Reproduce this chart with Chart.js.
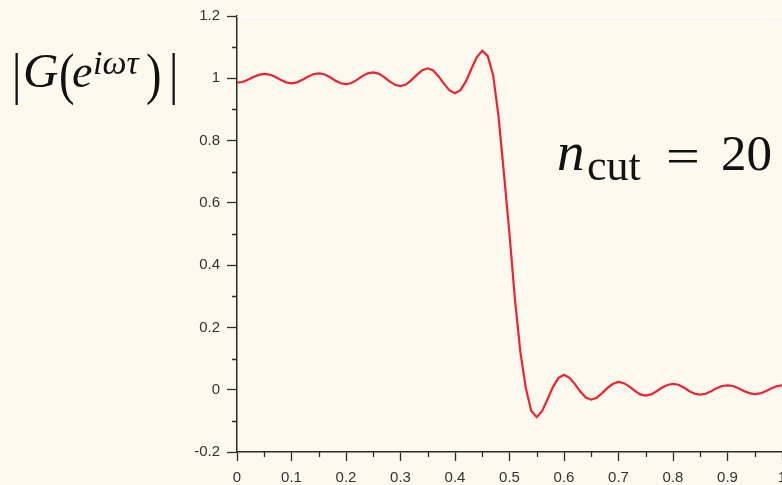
<!DOCTYPE html>
<html>
<head>
<meta charset="utf-8">
<script src="https://cdn.jsdelivr.net/npm/chart.js@4/dist/chart.umd.min.js"></script>
<style>
  html, body { margin: 0; padding: 0; background: #fdf9ef; overflow: hidden; }
  #wrap { position: relative; width: 782px; height: 485px; }
  canvas { display: block; }
</style>
</head>
<body>
<div id="wrap"><canvas id="c" width="782" height="485"></canvas></div>
<script>
// Normalised frequency (omega * tau / 2pi)
const omega = [
  0.00, 0.01, 0.02, 0.03, 0.04, 0.05, 0.06, 0.07, 0.08, 0.09,
  0.10, 0.11, 0.12, 0.13, 0.14, 0.15, 0.16, 0.17, 0.18, 0.19,
  0.20, 0.21, 0.22, 0.23, 0.24, 0.25, 0.26, 0.27, 0.28, 0.29,
  0.30, 0.31, 0.32, 0.33, 0.34, 0.35, 0.36, 0.37, 0.38, 0.39,
  0.40, 0.41, 0.42, 0.43, 0.44, 0.45, 0.46, 0.47, 0.48, 0.49,
  0.50, 0.51, 0.52, 0.53, 0.54, 0.55, 0.56, 0.57, 0.58, 0.59,
  0.60, 0.61, 0.62, 0.63, 0.64, 0.65, 0.66, 0.67, 0.68, 0.69,
  0.70, 0.71, 0.72, 0.73, 0.74, 0.75, 0.76, 0.77, 0.78, 0.79,
  0.80, 0.81, 0.82, 0.83, 0.84, 0.85, 0.86, 0.87, 0.88, 0.89,
  0.90, 0.91, 0.92, 0.93, 0.94, 0.95, 0.96, 0.97, 0.98, 0.99,
  1.00
];

// Filter gain |G(e^{i omega tau})| with n_cut = 20
const gain = [
  0.986, 0.988, 0.995, 1.004, 1.011, 1.014, 1.012, 1.005, 0.995, 0.987,
  0.984, 0.987, 0.995, 1.005, 1.013, 1.016, 1.013, 1.004, 0.993, 0.984,
  0.981, 0.985, 0.995, 1.007, 1.016, 1.019, 1.015, 1.004, 0.990, 0.979,
  0.975, 0.980, 0.994, 1.011, 1.026, 1.032, 1.025, 1.006, 0.982, 0.961,
  0.952, 0.962, 0.990, 1.030, 1.068, 1.088, 1.072, 1.010, 0.875, 0.690,
  0.500, 0.290, 0.120, 0.005, -0.068, -0.088, -0.068, -0.030, 0.010, 0.038,
  0.048, 0.038, 0.018, -0.006, -0.025, -0.032, -0.026, -0.011, 0.006, 0.019,
  0.025, 0.021, 0.010, -0.004, -0.015, -0.019, -0.015, -0.005, 0.007, 0.015,
  0.019, 0.016, 0.007, -0.005, -0.013, -0.016, -0.013, -0.005, 0.005, 0.012,
  0.014, 0.012, 0.005, -0.004, -0.011, -0.014, -0.012, -0.005, 0.004, 0.011,
  0.014
];

// Axis tick values
const xMajorTicks = [0, 0.1, 0.2, 0.3, 0.4, 0.5, 0.6, 0.7, 0.8, 0.9, 1];
const xMinorTicks = [0.05, 0.15, 0.25, 0.35, 0.45, 0.55, 0.65, 0.75, 0.85, 0.95];
const yMajorTicks = [-0.2, 0, 0.2, 0.4, 0.6, 0.8, 1, 1.2];
const yMinorTicks = [-0.1, 0.1, 0.3, 0.5, 0.7, 0.9, 1.1];

const AXIS = '#2b2b2b';
const LABEL = '#333333';
const TICK_FONT = { family: '"Liberation Sans", Arial, sans-serif', size: 15 };

function fmt(v) {
  return String(Math.round(v * 10) / 10);
}

// Background, minor ticks and the formula annotations
const decor = {
  id: 'decor',
  beforeDraw(chart) {
    const { ctx } = chart;
    ctx.save();
    ctx.fillStyle = '#fdf9ef';
    ctx.fillRect(0, 0, chart.width, chart.height);
    ctx.restore();
  },
  afterDraw(chart) {
    const { ctx, chartArea, scales } = chart;
    const xs = scales.x, ys = scales.y;
    ctx.save();
    // white top edge of the plot frame
    ctx.strokeStyle = '#ffffff';
    ctx.lineWidth = 1;
    ctx.beginPath();
    ctx.moveTo(chartArea.left, chartArea.top + 0.5);
    ctx.lineTo(chartArea.right, chartArea.top + 0.5);
    ctx.stroke();

    // minor ticks
    ctx.strokeStyle = AXIS;
    ctx.lineWidth = 1.3;
    ctx.beginPath();
    xMinorTicks.forEach(v => {
      const px = Math.round(xs.getPixelForValue(v)) + 0.5;
      ctx.moveTo(px, chartArea.bottom);
      ctx.lineTo(px, chartArea.bottom + 5);
    });
    yMinorTicks.forEach(v => {
      const py = Math.round(ys.getPixelForValue(v)) + 0.5;
      ctx.moveTo(chartArea.left, py);
      ctx.lineTo(chartArea.left - 5, py);
    });
    ctx.stroke();

    const serif = '"Liberation Serif", "DejaVu Serif", serif';
    ctx.fillStyle = '#111111';
    ctx.textAlign = 'left';
    ctx.textBaseline = 'alphabetic';

    // tall thin delimiters
    const delim = (ch, x, base) => {
      ctx.save();
      ctx.translate(x, base);
      ctx.scale(0.8, 1.0);
      ctx.font = '58px ' + serif;
      ctx.fillText(ch, 0, 0);
      ctx.restore();
    };

    // |G(e^{iωτ})|
    delim('|', 12, 93);
    ctx.font = 'italic 49px ' + serif;
    ctx.fillText('G', 23, 87);
    delim('(', 59, 93);
    ctx.font = 'italic 46px ' + serif;
    ctx.fillText('e', 72, 87);
    ctx.font = 'italic 34px ' + serif;
    ctx.fillText('iωτ', 93, 74);
    delim(')', 146, 93);
    delim('|', 169, 93);

    // n_cut = 20
    ctx.font = 'italic 55px ' + serif;
    ctx.fillText('n', 557, 170);
    ctx.font = '44px ' + serif;
    ctx.fillText('cut', 587, 180);
    ctx.save();
    ctx.translate(666, 173);
    ctx.scale(1.2, 1.0);
    ctx.font = '50px ' + serif;
    ctx.fillText('=', 0, 0);
    ctx.restore();
    ctx.font = '51px ' + serif;
    ctx.fillText('20', 721, 170);
    ctx.restore();
  }
};

new Chart(document.getElementById('c'), {
  type: 'line',
  data: {
    datasets: [{
      data: omega.map((w, i) => ({ x: w, y: gain[i] })),
      borderColor: '#ec2330',
      borderWidth: 2.2,
      pointRadius: 0,
      tension: 0,
      fill: false
    }]
  },
  options: {
    responsive: false,
    animation: false,
    events: [],
    layout: { padding: { left: 0, right: 0, top: 16, bottom: 0 } },
    plugins: { legend: { display: false }, tooltip: { enabled: false } },
    scales: {
      x: {
        type: 'linear',
        min: 0,
        max: 1,
        afterBuildTicks(scale) { scale.ticks = xMajorTicks.map(v => ({ value: v })); },
        afterFit(scale) { scale.height = 33; scale.paddingLeft = 0; scale.paddingRight = 0; },
        ticks: {
          callback: v => fmt(v),
          color: LABEL,
          font: TICK_FONT,
          padding: 8,
          maxRotation: 0,
          autoSkip: false
        },
        grid: { drawOnChartArea: false, drawTicks: true, tickLength: 9, tickColor: AXIS, tickWidth: 1.3 },
        border: { color: AXIS, width: 1.5 }
      },
      y: {
        type: 'linear',
        min: -0.2,
        max: 1.2,
        afterBuildTicks(scale) { scale.ticks = yMajorTicks.map(v => ({ value: v })); },
        afterFit(scale) { scale.width = 237; scale.paddingTop = 0; scale.paddingBottom = 0; },
        ticks: {
          callback: v => fmt(v),
          color: LABEL,
          font: TICK_FONT,
          padding: 7,
          autoSkip: false
        },
        grid: { drawOnChartArea: false, drawTicks: true, tickLength: 10, tickColor: AXIS, tickWidth: 1.3 },
        border: { color: AXIS, width: 1.5 }
      }
    }
  },
  plugins: [decor]
});
</script>
</body>
</html>
